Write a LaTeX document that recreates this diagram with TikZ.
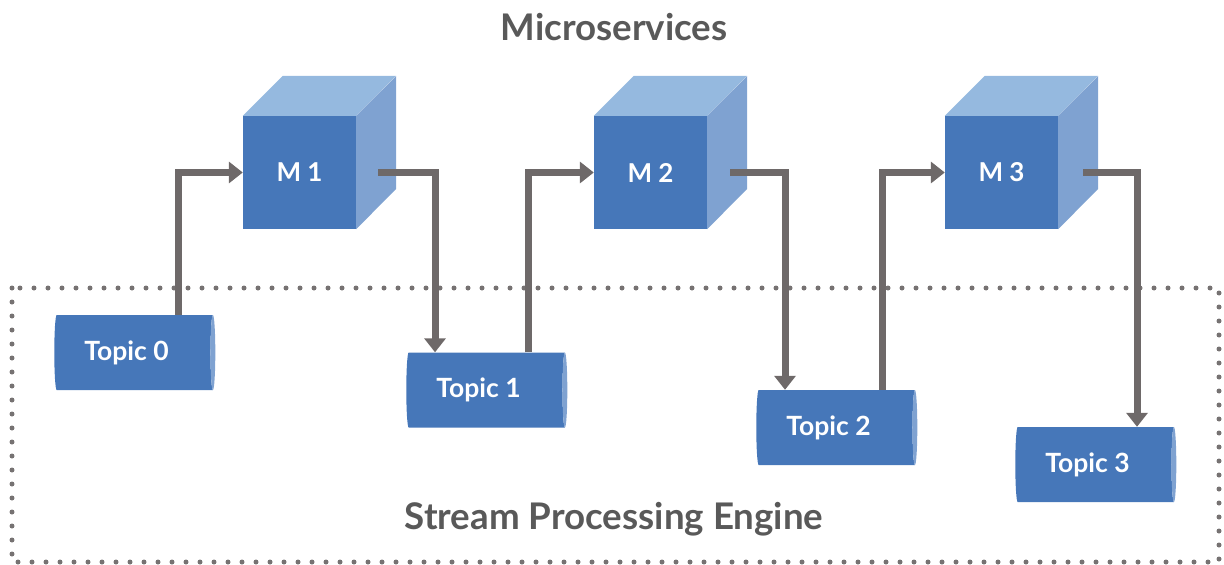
\documentclass[tikz,border=0pt]{standalone}
\usepackage{fontspec}
\setmainfont{Lato}
\usetikzlibrary{positioning, arrows.meta, shapes.geometric}

\definecolor{cubefront}{HTML}{4677B9}
\definecolor{cubetop}{HTML}{95B9DF}
\definecolor{cubeside}{HTML}{7FA2D1}
\definecolor{flowgray}{HTML}{6E6969}
\definecolor{dotgray}{HTML}{767272}
\definecolor{headgray}{HTML}{595959}

\tikzset{
  cube/.style={rectangle, fill=cubefront, minimum size=113pt, inner sep=0pt,
    text=white, font=\bfseries\fontsize{26}{30}\selectfont},
  topic/.style={cylinder, shape border rotate=0, aspect=0.2,
    minimum height=161pt, minimum width=75pt, inner sep=0pt,
    cylinder uses custom fill, cylinder body fill=cubefront, cylinder end fill=cubeside,
    text=white, font=\bfseries\fontsize{26.5}{30}\selectfont},
  flow/.style={draw=flowgray, line width=7pt, -{Triangle[width=21pt,length=14pt]}},
  engine/.style={draw=dotgray, line width=5pt, line cap=round, dash pattern=on 0pt off 14pt},
  heading/.style={text=headgray, font=\bfseries\fontsize{36.7}{42}\selectfont}
}

\begin{document}
\begin{tikzpicture}[x=1pt, y=-1pt, node distance=351pt, on grid]
  \useasboundingbox (0,0) rectangle (1224,565);

  % engine frame
  \draw[engine] (12,288) rectangle (1219,562);
  \node[heading] (title) at (614,27) {Microservices};
  \node[heading] (engine) at (614,519) {Stream Processing Engine};

  % microservices
  \node[cube] (m1) at (299.5,172.5) {M 1};
  \node[cube, right=of m1] (m2) {M 2};
  \node[cube, right=of m2] (m3) {M 3};
  \foreach \m in {m1, m2, m3} {
    \fill[cubetop] (\m.north west) -- ++(40,-40) -- ++(113,0) -- (\m.north east) -- cycle;
    \fill[cubeside] (\m.north east) -- ++(40,-40) -- ++(0,113) -- (\m.south east) -- cycle;
  }

  % topics
  \node[topic] (t0) at (133.5,352.5) {Topic 0\kern14pt};
  \node[topic] (t1) at (485.5,390) {Topic 1\kern14pt};
  \node[topic] (t2) at (835.5,427.5) {Topic 2\kern14pt};
  \node[topic] (t3) at (1094.5,464.5) {Topic 3\kern14pt};

  % flows
  \draw[flow] ([xshift=44.5pt]t0.north) |- (m1.west);
  \draw[flow] ([xshift=22pt]m1.east) -| ([xshift=-50.5pt]t1.north);
  \draw[flow] ([xshift=42.5pt]t1.north) |- (m2.west);
  \draw[flow] ([xshift=23pt]m2.east) -| ([xshift=-50.5pt]t2.north);
  \draw[flow] ([xshift=46.5pt]t2.north) |- (m3.west);
  \draw[flow] ([xshift=25pt]m3.east) -| ([xshift=42.5pt]t3.north);
\end{tikzpicture}
\end{document}
